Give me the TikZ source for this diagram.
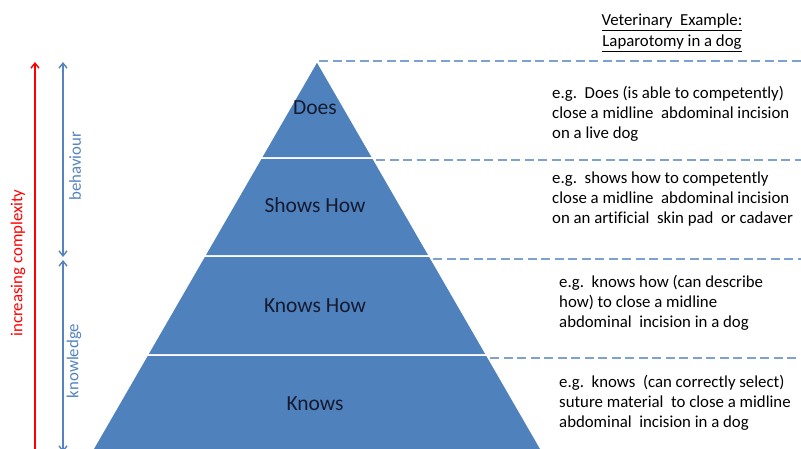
\documentclass[tikz,border=0pt]{standalone}
\usepackage{fontspec}
\setmainfont[Ligatures=NoCommon]{Carlito}
\usetikzlibrary{arrows.meta}

\definecolor{tierblue}{RGB}{79,129,189}
\definecolor{tiertext}{RGB}{22,26,48}
\definecolor{rungblue}{RGB}{126,162,208}
\definecolor{sideblue}{RGB}{84,131,190}

\begin{document}
\begin{tikzpicture}[x=1pt, y=-1pt,
  every node/.style={font=\fontsize{16.8}{20}\selectfont, inner sep=0pt},
  tier/.style={fill=tierblue, draw=white, line width=1.5pt},
  tierlabel/.style={font=\fontsize{21.5}{24}\selectfont, text=tiertext},
  rung/.style={draw=rungblue, line width=1.6pt, dash pattern=on 9pt off 4.5pt},
  example/.style={anchor=west, align=left},
  sidearrow/.style={line width=1.4pt, arrows={Straight Barb[length=5pt,width=8pt]-Straight Barb[length=5pt,width=8pt]}}]
  \clip (0,0) rectangle (801,448);

  % pyramid, one trapezoid per level (apex at 317,61, sides at 60 degrees)
  \foreach \ya/\yb/\ly/\lab/\name in {61/158/108/Does/does, 158/256/205/Shows How/shows,
                                      256/355/306/Knows How/knowshow, 355/470/404/Knows/knows} {
    \pgfmathsetmacro{\wa}{0.5774*(\ya-61)}
    \pgfmathsetmacro{\wb}{0.5774*(\yb-61)}
    \filldraw[tier] (317-\wa,\ya) -- (317+\wa,\ya) -- (317+\wb,\yb) -- (317-\wb,\yb) -- cycle;
    \node[tierlabel] (\name) at (315,\ly) {\lab};
  }

  % dashed rungs out to the examples
  \foreach \y in {61,160,259,358} {
    \pgfmathsetmacro{\xr}{319+0.5774*(\y-61)}
    \coordinate (r\y) at (\xr,\y);
    \coordinate (e\y) at (801,\y);
    \draw[rung] (r\y) -- (e\y);
  }

  \node[align=center, font=\fontsize{16.8}{21}\selectfont] (head) at (672,33)
    {\underline{Veterinary\ \ Example:}\\\underline{Laparotomy in a dog}};

  \node[example] (ex-does) at (552,114)
    {e.g.\ \ Does (is able to competently)\\close a midline\ \ abdominal incision\\on a live dog};
  \node[example] (ex-shows) at (552,199)
    {e.g.\ \ shows how to competently\\close a midline\ \ abdominal incision\\on an artificial\ \ skin pad\ \ or cadaver};
  \node[example] (ex-knowshow) at (559,303)
    {e.g.\ \ knows how (can describe\\how) to close a midline\\abdominal\ \ incision in a dog};
  \node[example] (ex-knows) at (559,403)
    {e.g.\ \ knows\ \ (can correctly select)\\suture material\ \ to close a midline\\abdominal\ \ incision in a dog};

  % left-hand scales
  \coordinate (cx-bot) at (35,470);
  \coordinate (cx-top) at (35,62);
  \draw[red, line width=1.4pt, -{Straight Barb[length=5pt,width=8pt]}] (cx-bot) -- (cx-top);
  \node[rotate=90, text=red] (complexity) at (18,263) {increasing complexity};

  \coordinate (beh-top) at (63,62);
  \coordinate (beh-bot) at (63,257);
  \coordinate (know-top) at (63,260);
  \coordinate (know-bot) at (63,452);
  \draw[sidearrow, sideblue] (beh-bot) -- (beh-top);
  \draw[sidearrow, sideblue] (know-bot) -- (know-top);
  \node[rotate=90, text=sideblue] (behaviour) at (75,166) {behaviour};
  \node[rotate=90, text=sideblue] (knowledge) at (74,361) {knowledge};
\end{tikzpicture}
\end{document}
